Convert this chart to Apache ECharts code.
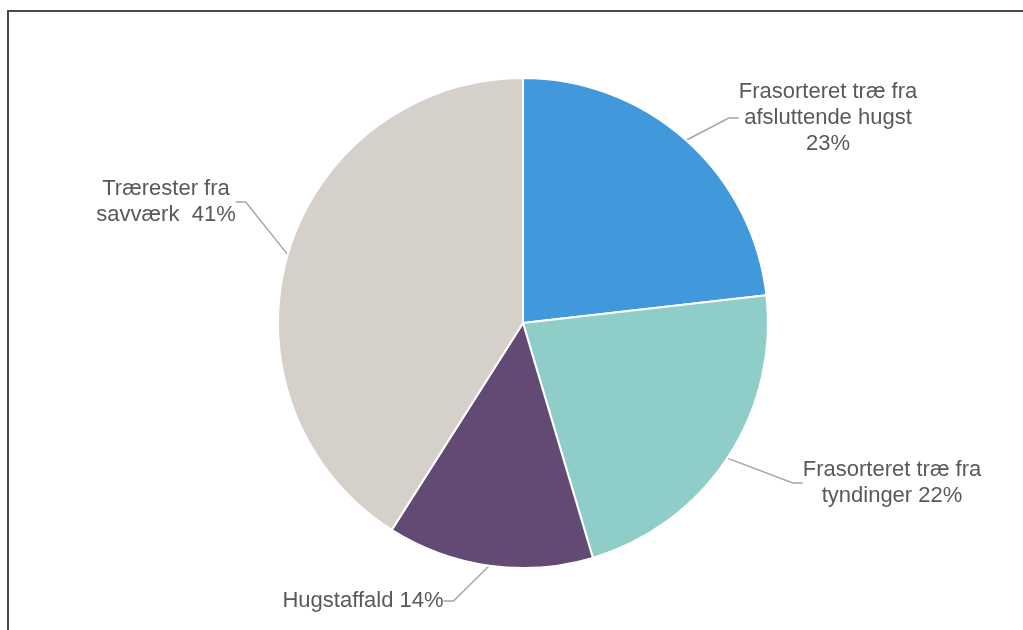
<!DOCTYPE html>
<html>
<head>
<meta charset="utf-8">
<script src="https://cdn.jsdelivr.net/npm/echarts@6/dist/echarts.min.js"></script>
<style>
html,body{margin:0;padding:0;background:#fff;}
#c{width:1023px;height:630px;}
</style>
</head>
<body>
<div id="c"></div>
<script>
// Data
const categories = ['Frasorteret træ fra\nafsluttende hugst', 'Frasorteret træ fra\ntyndinger', 'Hugstaffald', 'Trærester fra\nsavværk'];
const values = [23.2, 22.2, 13.6, 41.0];
const separators = ['\n', ' ', ' ', '  '];
const colors = ['#4198DB', '#8FCDC8', '#634A74', '#D6D0CA'];

// Label placement (layout only)
const labelPos = [
  {x: 828, y: 118},
  {x: 892, y: 483},
  {x: 363, y: 601},
  {x: 166, y: 202}
];

const chart = echarts.init(document.getElementById('c'), null, {renderer: 'canvas'});
chart.setOption({
  backgroundColor: '#fff',
  animation: false,
  graphic: [
    {type: 'line', shape: {x1: 8, y1: 11, x2: 1023, y2: 11}, style: {stroke: '#4a4a4a', lineWidth: 2}},
    {type: 'line', shape: {x1: 8, y1: 10, x2: 8, y2: 630}, style: {stroke: '#4a4a4a', lineWidth: 2}}
  ],
  series: [{
    type: 'pie',
    center: [523, 323],
    radius: 245,
    startAngle: 90,
    clockwise: true,
    avoidLabelOverlap: false,
    itemStyle: {borderColor: '#fff', borderWidth: 2},
    label: {
      show: true,
      position: 'outside',
      fontFamily: '"Liberation Sans", Arial, sans-serif',
      fontSize: 22,
      lineHeight: 26,
      color: '#595959',
      align: 'center',
      formatter: p => categories[p.dataIndex] + separators[p.dataIndex] + Math.round(p.percent) + '%'
    },
    labelLine: {
      show: true,
      length: 20,
      length2: 10,
      lineStyle: {color: '#A6A6A6', width: 1.5}
    },
    labelLayout: p => ({
      x: labelPos[p.dataIndex].x,
      y: labelPos[p.dataIndex].y,
      align: 'center',
      verticalAlign: 'middle'
    }),
    emphasis: {disabled: true},
    data: categories.map((n, i) => ({name: n, value: values[i], itemStyle: {color: colors[i]}}))
  }]
});
</script>
</body>
</html>
